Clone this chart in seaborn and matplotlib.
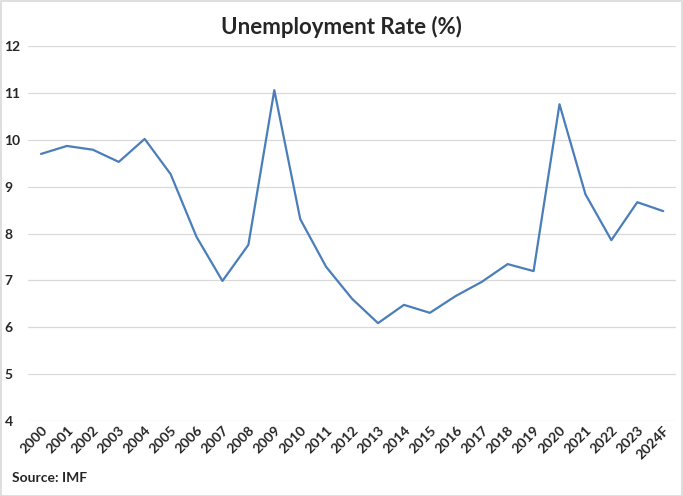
import pandas as pd
import matplotlib.pyplot as plt
import seaborn as sns
from matplotlib.patches import Rectangle

years = ["2000", "2001", "2002", "2003", "2004", "2005", "2006", "2007", "2008",
         "2009", "2010", "2011", "2012", "2013", "2014", "2015", "2016", "2017",
         "2018", "2019", "2020", "2021", "2022", "2023", "2024F"]
rate = [9.70, 9.87, 9.79, 9.53, 10.02, 9.27, 7.93, 6.99, 7.76,
        11.06, 8.31, 7.29, 6.61, 6.09, 6.48, 6.31, 6.67, 6.97,
        7.35, 7.20, 10.76, 8.84, 7.86, 8.67, 8.48]

df = pd.DataFrame({"year": years, "rate": rate})

sns.set_style("white")
plt.rcParams['font.family'] = ['Lato', 'DejaVu Sans']
plt.rcParams['font.weight'] = 'bold'

fig = plt.figure(figsize=(6.83, 4.96), dpi=100)
ax = fig.add_axes([0.041, 0.151, 0.949, 0.756])

sns.lineplot(data=df, x="year", y="rate", sort=False, color="#4a7ebb", linewidth=1.6, ax=ax)

ax.set_ylim(4, 12)
ax.set_xlim(-0.5, len(years) - 0.5)
ax.set_yticks(range(4, 13))
ax.yaxis.grid(True, color="#d9d9d9", linewidth=0.9)
ax.set_axisbelow(True)
for s in ax.spines.values():
    s.set_visible(False)
ax.tick_params(axis="both", length=0, labelsize=10, pad=2)
ax.yaxis.set_tick_params(pad=17)
for lbl in ax.get_yticklabels():
    lbl.set_fontweight("bold")
    lbl.set_horizontalalignment("left")
plt.setp(ax.get_xticklabels(), rotation=45, ha="right", rotation_mode="anchor", fontweight="bold")
ax.set_xlabel("")
ax.set_ylabel("")

fig.text(0.5, 0.945, "Unemployment Rate (%)", ha="center", va="center", fontsize=16, fontweight="bold")
fig.text(0.018, 0.036, "Source: IMF", ha="left", va="center", fontsize=10, fontweight="bold")

fig.patches.append(Rectangle((0.001, 0.001), 0.997, 0.997, transform=fig.transFigure,
                             fill=False, edgecolor="#d9d9d9", linewidth=1.2))

fig.savefig("out.png", dpi=100)
